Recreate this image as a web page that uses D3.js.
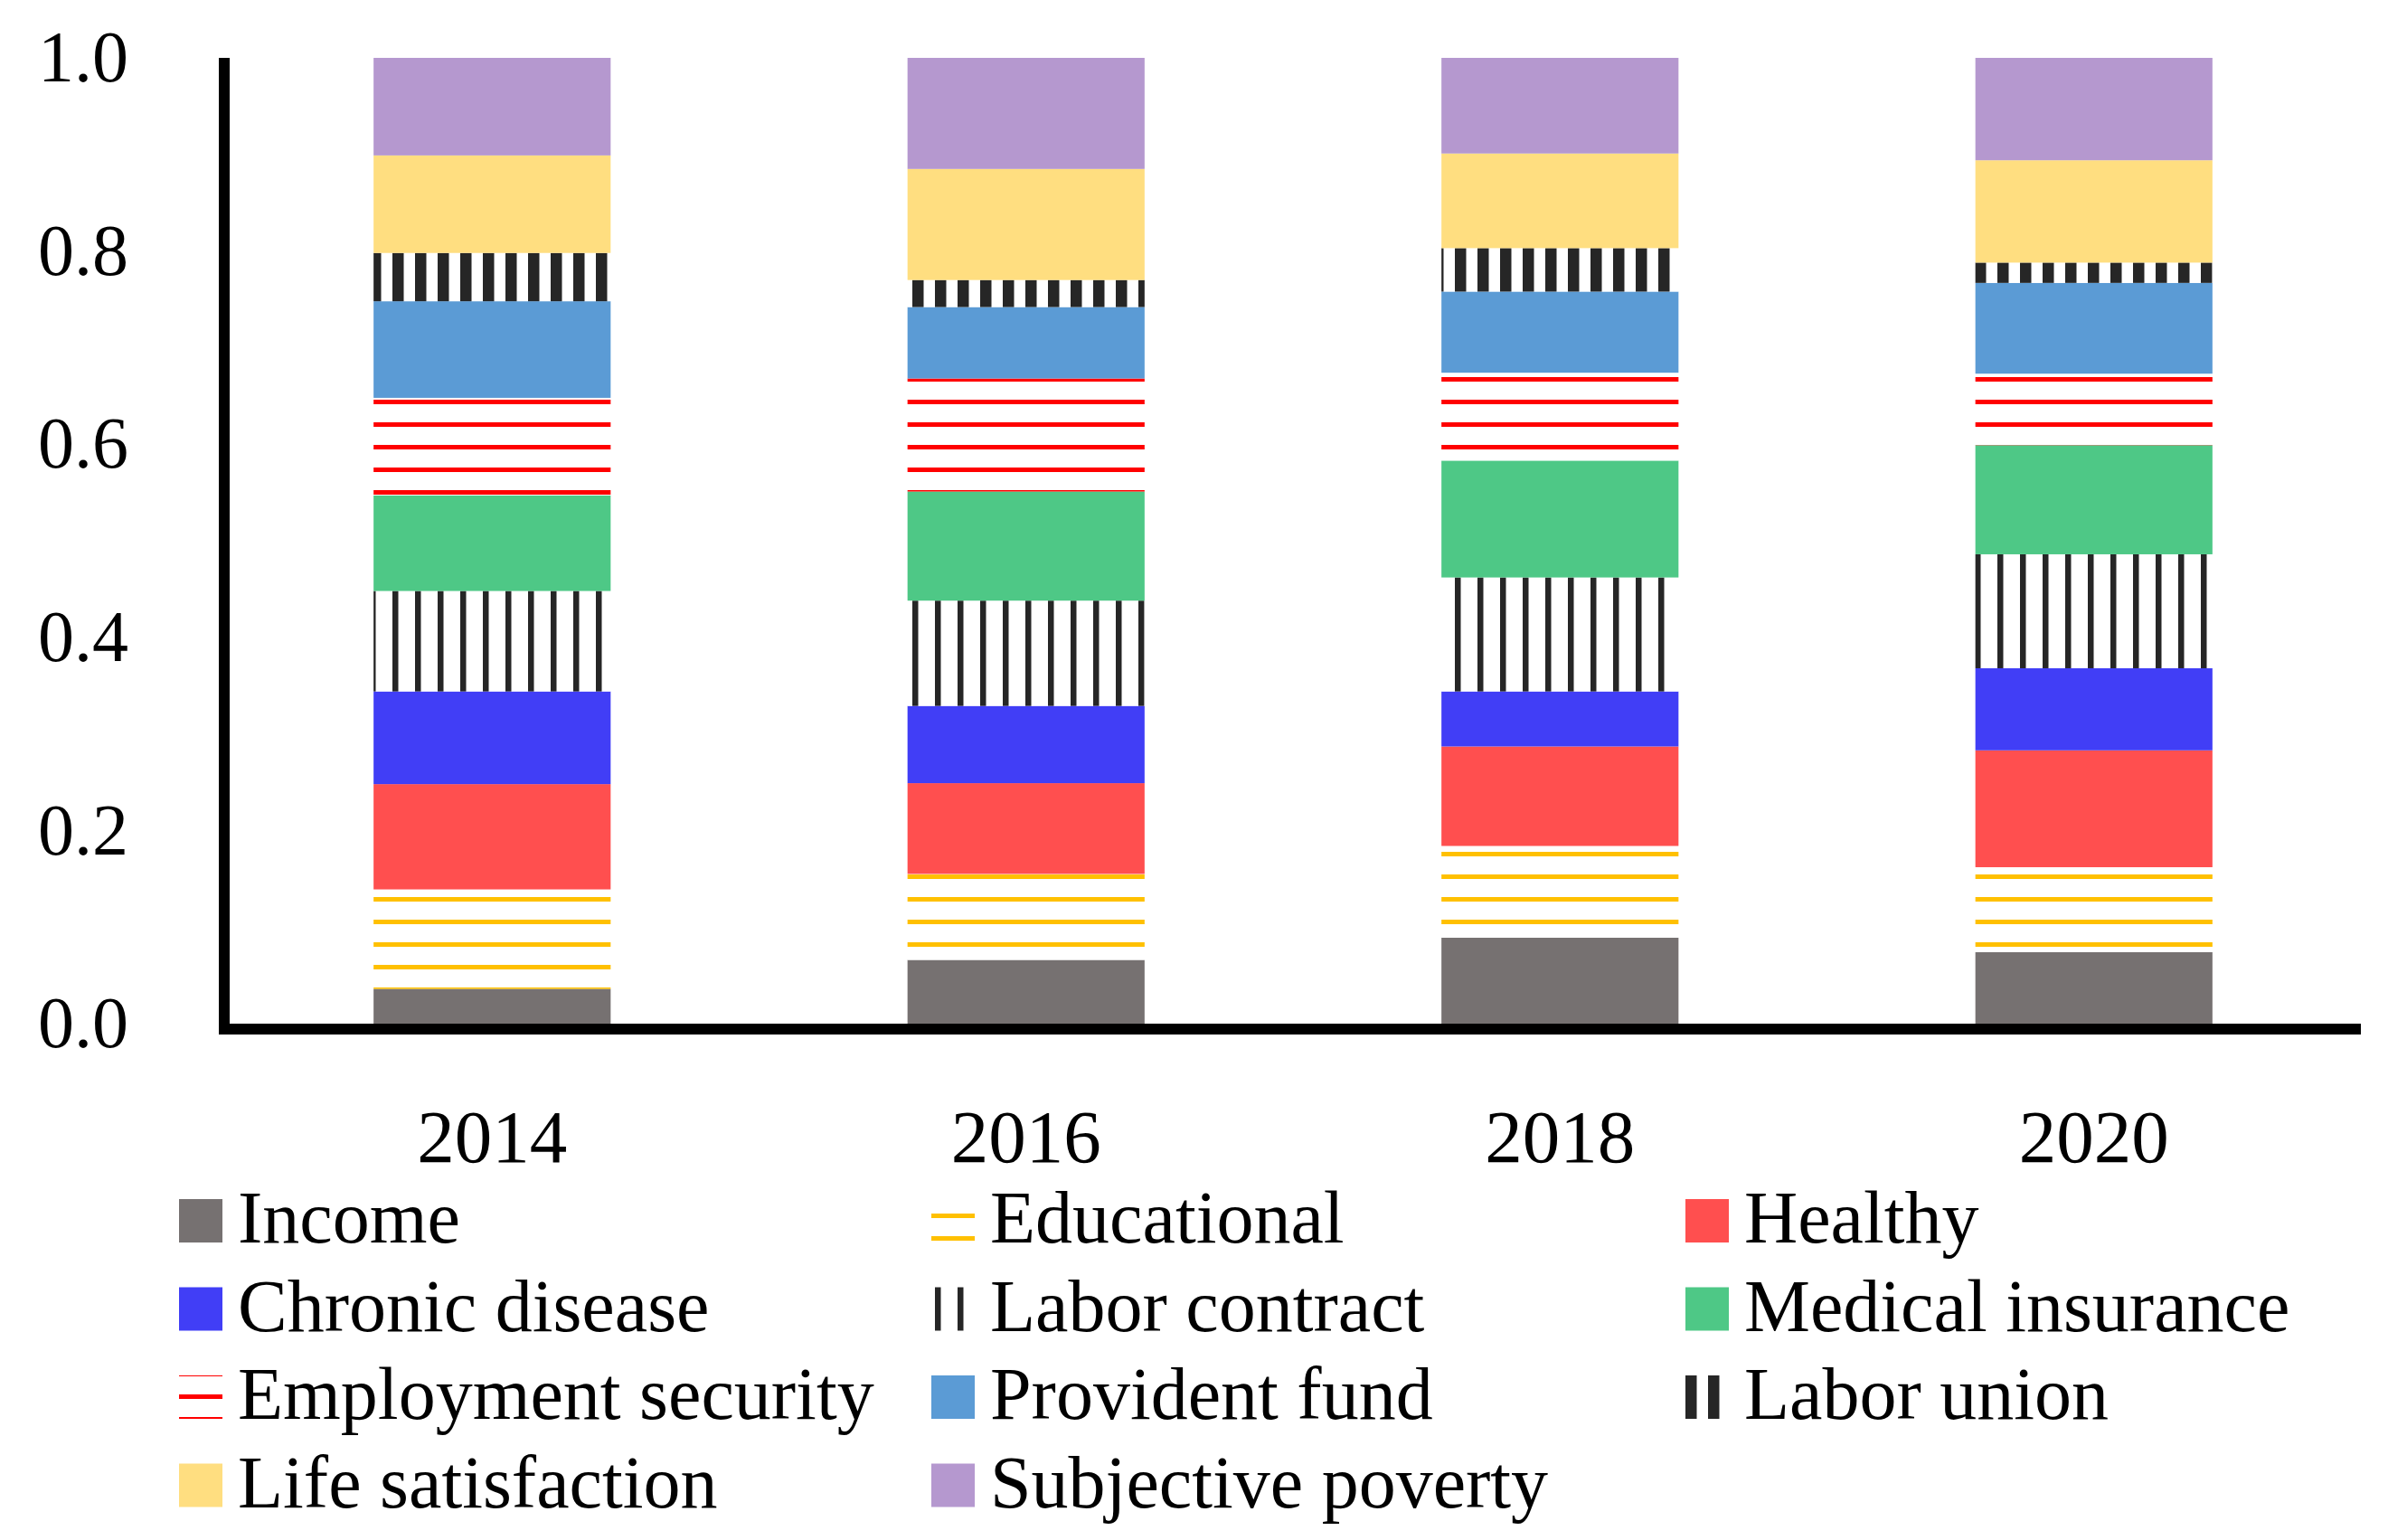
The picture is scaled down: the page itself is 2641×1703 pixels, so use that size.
<!DOCTYPE html>
<html>
<head>
<meta charset="utf-8">
<script src="https://cdn.jsdelivr.net/npm/d3@7/dist/d3.min.js"></script>
<style>
  html, body { margin: 0; padding: 0; background: #fff; }
  svg { display: block; }
  text { font-family: "Liberation Serif", "Times New Roman", serif; fill: #000; }
</style>
</head>
<body>
<svg id="chart" width="2641" height="1703"></svg>
<script>
// ---- data ----
const years = ["2014", "2016", "2018", "2020"];
const seriesNames = ["Income", "Educational", "Healthy", "Chronic disease", "Labor contract",
  "Medical insurance", "Employment security", "Provident fund", "Labor union",
  "Life satisfaction", "Subjective poverty"];
const income            = [0.036, 0.066, 0.089, 0.074];
const educational       = [0.103, 0.089, 0.095, 0.088];
const healthy           = [0.109, 0.094, 0.103, 0.121];
const chronicDisease    = [0.096, 0.080, 0.057, 0.085];
const laborContract     = [0.104, 0.109, 0.118, 0.118];
const medicalInsurance  = [0.099, 0.113, 0.121, 0.113];
const employmentSecurity= [0.101, 0.117, 0.091, 0.074];
const providentFund     = [0.100, 0.074, 0.084, 0.094];
const laborUnion        = [0.050, 0.028, 0.045, 0.021];
const lifeSatisfaction  = [0.101, 0.115, 0.098, 0.106];
const subjectivePoverty = [0.101, 0.115, 0.099, 0.106];
const yTicks = [0, 0.2, 0.4, 0.6, 0.8, 1.0];

const seriesValues = [income, educational, healthy, chronicDisease, laborContract,
  medicalInsurance, employmentSecurity, providentFund, laborUnion, lifeSatisfaction, subjectivePoverty];

// ---- styles ----
const fills = {
  "Income": "#767171",
  "Educational": "url(#pEdu)",
  "Healthy": "#FF4F4F",
  "Chronic disease": "#413EF6",
  "Labor contract": "url(#pLC)",
  "Medical insurance": "#4EC886",
  "Employment security": "url(#pEmp)",
  "Provident fund": "#5B9BD5",
  "Labor union": "url(#pLU)",
  "Life satisfaction": "#FFDE80",
  "Subjective poverty": "#B598CF"
};
const legendFills = Object.assign({}, fills, { "Labor union": "url(#pLUleg)" });

const svg = d3.select("#chart");
svg.append("rect").attr("width", 2641).attr("height", 1703).attr("fill", "#fff");

const defs = svg.append("defs");
function hPattern(id, color, offY) {
  const p = defs.append("pattern").attr("id", id).attr("patternUnits", "userSpaceOnUse")
    .attr("x", 0).attr("y", offY).attr("width", 25).attr("height", 25);
  p.append("rect").attr("width", 25).attr("height", 25).attr("fill", "#fff");
  p.append("rect").attr("x", 0).attr("y", 0).attr("width", 25).attr("height", 5).attr("fill", color);
}
function vPattern(id, color, offX, w) {
  const p = defs.append("pattern").attr("id", id).attr("patternUnits", "userSpaceOnUse")
    .attr("x", offX).attr("y", 0).attr("width", 25).attr("height", 25);
  p.append("rect").attr("width", 25).attr("height", 25).attr("fill", "#fff");
  p.append("rect").attr("x", 0).attr("y", 0).attr("width", w).attr("height", 25).attr("fill", color);
}
hPattern("pEdu", "#FFC000", 17);
hPattern("pEmp", "#FF0000", 17);
vPattern("pLC", "#262626", 9, 6.5);
vPattern("pLU", "#262626", 9, 12.5);
vPattern("pLUleg", "#262626", 14, 12.5);

// ---- scales ----
const x = d3.scaleBand().domain(years).range([249, 2611]).paddingInner(0.556).paddingOuter(0.278);
const y = d3.scaleLinear().domain([0, 1]).range([1132, 64]);

const rows = years.map((yr, i) => {
  const r = { year: yr };
  seriesNames.forEach((s, k) => { r[s] = seriesValues[k][i]; });
  return r;
});
const stacked = d3.stack().keys(seriesNames)(rows);

// ---- bars ----
const gBars = svg.append("g");
stacked.forEach(layer => {
  gBars.append("g")
    .attr("fill", fills[layer.key])
    .selectAll("rect")
    .data(layer)
    .join("rect")
    .attr("x", d => x(d.data.year))
    .attr("width", x.bandwidth())
    .attr("y", d => y(d[1]))
    .attr("height", d => y(d[0]) - y(d[1]));
});

// ---- axes ----
const yAxis = svg.append("g").attr("transform", "translate(248,0)")
  .call(d3.axisLeft(y).tickValues(yTicks).tickFormat(d3.format(".1f")).tickSize(0).tickPadding(106));
yAxis.select(".domain").remove();
yAxis.selectAll("text").style("font-family", "Liberation Serif").style("font-size", "80px");

const xAxis = svg.append("g").attr("transform", `translate(0,${y(0)})`)
  .call(d3.axisBottom(x).tickSize(0).tickPadding(94));
xAxis.select(".domain").remove();
xAxis.selectAll("text").style("font-family", "Liberation Serif").style("font-size", "83px");

// axis lines
svg.append("line").attr("x1", 248).attr("x2", 248).attr("y1", y(1)).attr("y2", y(0) + 12)
  .attr("stroke", "#000").attr("stroke-width", 12);
svg.append("line").attr("x1", 242).attr("x2", 2611).attr("y1", y(0) + 6).attr("y2", y(0) + 6)
  .attr("stroke", "#000").attr("stroke-width", 12);

// ---- legend ----
const legendCols = [198, 1030, 1864];
const legendRowTop = 1327, legendRowStep = 97.5;
const legend = svg.append("g");
seriesNames.forEach((s, i) => {
  const col = i % 3, row = Math.floor(i / 3);
  const lx = legendCols[col];
  const ly = legendRowTop + row * legendRowStep;
  legend.append("rect").attr("x", lx).attr("y", ly - 1).attr("width", 48).attr("height", 48)
    .attr("fill", legendFills[s]);
  legend.append("text").attr("x", lx + 65).attr("y", ly + 47)
    .style("font-size", "82px").text(s);
});
</script>
</body>
</html>
